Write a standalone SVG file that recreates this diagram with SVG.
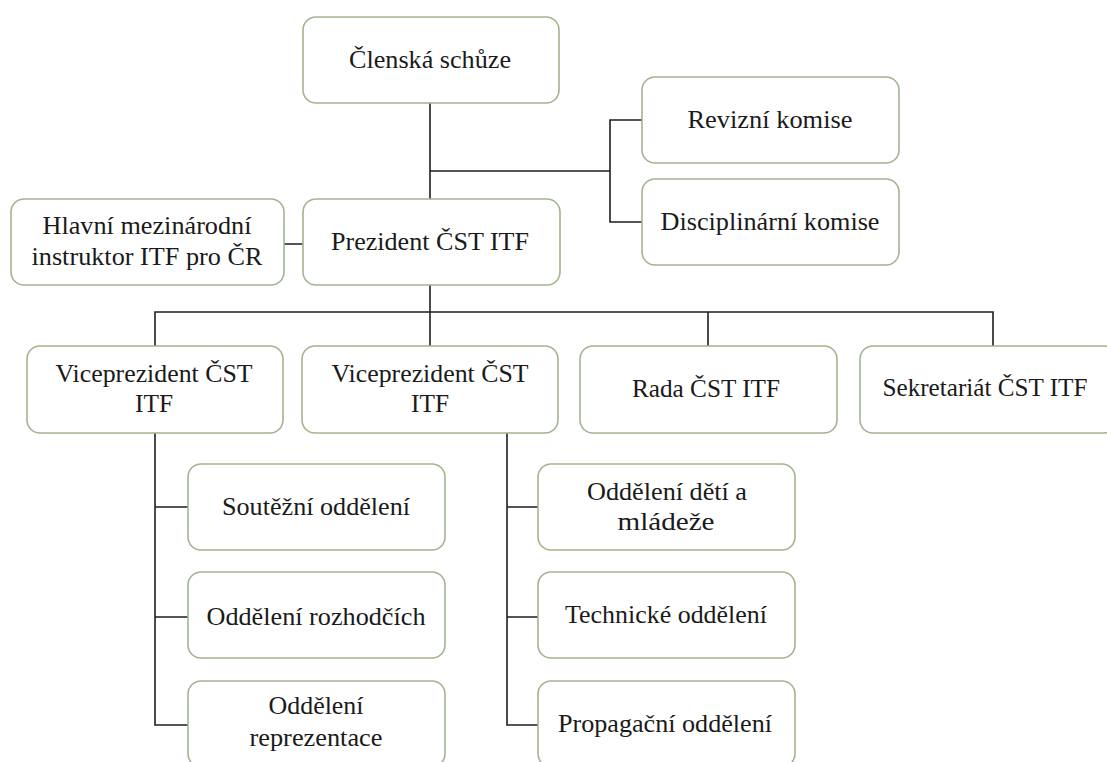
<svg xmlns="http://www.w3.org/2000/svg" width="1107" height="762" viewBox="0 0 1107 762">
<style>
.box{fill:#ffffff;stroke:#a3b48f;stroke-width:1.6}
.t{font-family:"Liberation Serif","Times New Roman",serif;font-size:25px;fill:#1a1a1a;text-anchor:middle}
.c{stroke:#1e1e1e;stroke-width:1.6;fill:none}
</style>
<rect width="1107" height="762" fill="#ffffff"/>
<g id="connectors">
<path class="c" d="M430,103V199M430,171H610M642,120H610V222H642M284,244H303M430,285V346M155,346V312H993V346M708,312V346M155,433V725H188M155,507H188M155,617H188M507,433V725H538M507,507H538M507,617H538"/>
</g>
<g id="n-clenska"><rect class="box" x="303" y="17" width="256" height="86" rx="13"/><text class="t" x="430" y="68" textLength="162" lengthAdjust="spacingAndGlyphs">Členská schůze</text></g>
<g id="n-revizni"><rect class="box" x="642" y="77" width="257" height="86" rx="13"/><text class="t" x="770" y="128" textLength="165" lengthAdjust="spacingAndGlyphs">Revizní komise</text></g>
<g id="n-disciplinarni"><rect class="box" x="642" y="179" width="257" height="86" rx="13"/><text class="t" x="770" y="230" textLength="219" lengthAdjust="spacingAndGlyphs">Disciplinární komise</text></g>
<g id="n-hlavni"><rect class="box" x="11" y="199" width="273" height="86" rx="13"/><text class="t" x="147" y="234" textLength="209" lengthAdjust="spacingAndGlyphs">Hlavní mezinárodní</text><text class="t" x="147" y="265" textLength="231" lengthAdjust="spacingAndGlyphs">instruktor ITF pro ČR</text></g>
<g id="n-prezident"><rect class="box" x="303" y="199" width="257" height="86" rx="13"/><text class="t" x="430" y="250" textLength="198" lengthAdjust="spacingAndGlyphs">Prezident ČST ITF</text></g>
<g id="n-vice1"><rect class="box" x="27" y="346" width="256" height="87" rx="13"/><text class="t" x="154" y="382" textLength="197" lengthAdjust="spacingAndGlyphs">Viceprezident ČST</text><text class="t" x="154" y="412" textLength="38" lengthAdjust="spacingAndGlyphs">ITF</text></g>
<g id="n-vice2"><rect class="box" x="302" y="346" width="256" height="87" rx="13"/><text class="t" x="430" y="382" textLength="197" lengthAdjust="spacingAndGlyphs">Viceprezident ČST</text><text class="t" x="430" y="412" textLength="38" lengthAdjust="spacingAndGlyphs">ITF</text></g>
<g id="n-rada"><rect class="box" x="580" y="346" width="257" height="87" rx="13"/><text class="t" x="706" y="397" textLength="148" lengthAdjust="spacingAndGlyphs">Rada ČST ITF</text></g>
<g id="n-sekretariat"><rect class="box" x="860" y="346" width="257" height="87" rx="13"/><text class="t" x="985" y="396" textLength="205" lengthAdjust="spacingAndGlyphs">Sekretariát ČST ITF</text></g>
<g id="n-soutezni"><rect class="box" x="188" y="464" width="257" height="86" rx="13"/><text class="t" x="316" y="515" textLength="188" lengthAdjust="spacingAndGlyphs">Soutěžní oddělení</text></g>
<g id="n-rozhodci"><rect class="box" x="188" y="572" width="257" height="86" rx="13"/><text class="t" x="316" y="625" textLength="219" lengthAdjust="spacingAndGlyphs">Oddělení rozhodčích</text></g>
<g id="n-reprezentace"><rect class="box" x="188" y="681" width="257" height="86" rx="13"/><text class="t" x="316" y="714" textLength="95" lengthAdjust="spacingAndGlyphs">Oddělení</text><text class="t" x="316" y="746" textLength="133" lengthAdjust="spacingAndGlyphs">reprezentace</text></g>
<g id="n-deti"><rect class="box" x="538" y="464" width="257" height="86" rx="13"/><text class="t" x="667" y="500" textLength="160" lengthAdjust="spacingAndGlyphs">Oddělení dětí a</text><text class="t" x="666" y="530" textLength="97" lengthAdjust="spacingAndGlyphs">mládeže</text></g>
<g id="n-technicke"><rect class="box" x="538" y="572" width="257" height="86" rx="13"/><text class="t" x="666" y="623" textLength="202" lengthAdjust="spacingAndGlyphs">Technické oddělení</text></g>
<g id="n-propagacni"><rect class="box" x="538" y="681" width="257" height="86" rx="13"/><text class="t" x="665" y="732" textLength="214" lengthAdjust="spacingAndGlyphs">Propagační oddělení</text></g>
</svg>
